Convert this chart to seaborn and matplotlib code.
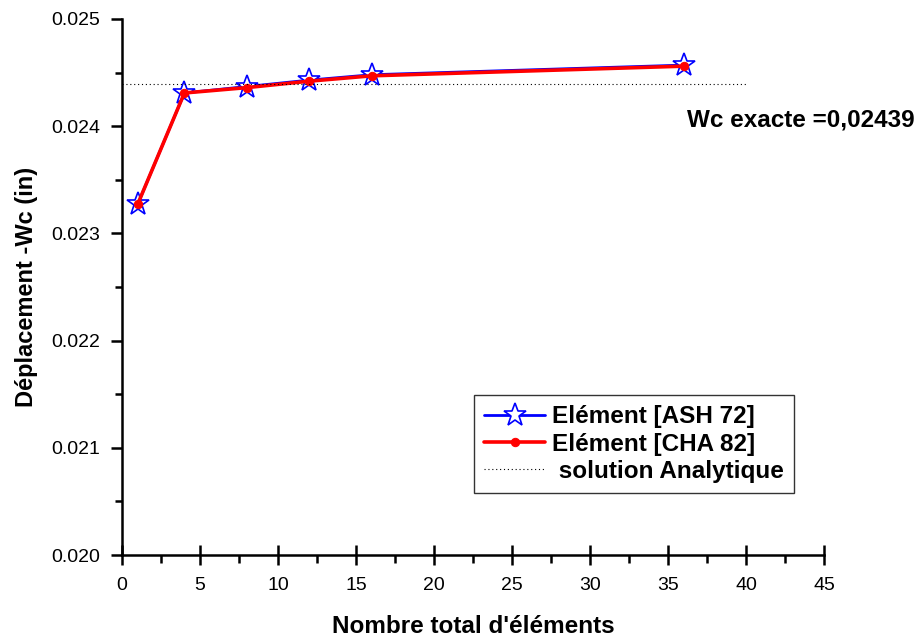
import matplotlib
matplotlib.use("Agg")
import matplotlib.pyplot as plt
import seaborn as sns
import pandas as pd

n_elements = [1, 4, 8, 12, 16, 36]
w_ash72 = [0.02327, 0.02431, 0.02437, 0.02443, 0.02448, 0.02457]
w_cha82 = [0.02327, 0.02431, 0.02436, 0.02442, 0.02447, 0.02456]
w_exact = 0.02439
exact_x = [0, 40]
x_ticks = [0, 5, 10, 15, 20, 25, 30, 35, 40, 45]
y_ticks = [0.020, 0.021, 0.022, 0.023, 0.024, 0.025]

sns.set_theme(style="ticks")
plt.rcParams['font.family'] = ['Liberation Sans', 'DejaVu Sans']
plt.rcParams['text.color'] = 'black'
plt.rcParams['axes.labelcolor'] = 'black'
plt.rcParams['xtick.color'] = 'black'
plt.rcParams['ytick.color'] = 'black'

fig = plt.figure(figsize=(9.21, 6.39), dpi=100)
ax = fig.add_axes([122/921, 84/639, (824-122)/921, (555-19)/639])

df_ash = pd.DataFrame({"x": n_elements, "y": w_ash72})
df_cha = pd.DataFrame({"x": n_elements, "y": w_cha82})
df_ex = pd.DataFrame({"x": exact_x, "y": [w_exact, w_exact]})

sns.lineplot(data=df_ash, x="x", y="y", ax=ax, color="blue", lw=2,
             marker="*", markersize=17, markerfacecolor="white",
             markeredgecolor="blue", markeredgewidth=1.2,
             label="Elément [ASH 72]")
sns.lineplot(data=df_cha, x="x", y="y", ax=ax, color="red", lw=2.6,
             marker="o", markersize=6, markerfacecolor="red",
             markeredgecolor="red", label="Elément [CHA 82]")
sns.lineplot(data=df_ex, x="x", y="y", ax=ax, color="black", lw=0.8,
             linestyle=(0, (1, 2.5)), label=" solution Analytique")

ax.set_xlim(0, 45)
ax.set_ylim(0.020, 0.025)
ax.set_xticks(x_ticks)
ax.set_xticks([2.5 + 5 * i for i in range(9)], minor=True)
ax.set_yticks(y_ticks)
ax.set_yticks([0.0205, 0.0215, 0.0225, 0.0235, 0.0245], minor=True)
ax.set_yticklabels([f"{v:.3f}" for v in y_ticks])
ax.tick_params(axis="x", which="major", direction="inout", length=14, width=1.8,
               labelsize=14, pad=9)
ax.tick_params(axis="x", which="minor", direction="out", length=6, width=1.8)
ax.tick_params(axis="y", which="major", direction="out", length=8, width=1.8,
               labelsize=14, pad=8)
ax.tick_params(axis="y", which="minor", direction="out", length=5, width=1.8)
for s in ["top", "right"]:
    ax.spines[s].set_visible(False)
for s in ["left", "bottom"]:
    ax.spines[s].set_linewidth(1.8)
    ax.spines[s].set_color("black")

ax.set_xlabel("Nombre total d'éléments", fontsize=17.5, fontweight="bold", labelpad=15)
ax.set_ylabel("Déplacement -Wc (in)", fontsize=17, fontweight="bold", labelpad=9)

ax.text(50.8, 0.024058, "Wc exacte =0,02439", fontsize=17.5, fontweight="bold",
        ha="right", va="center", clip_on=False)

leg = ax.legend(loc="upper left", bbox_to_anchor=((474-122)/702, (555-395)/536),
                frameon=True, fancybox=False, edgecolor="black",
                prop={"weight": "bold", "size": 17.5}, handlelength=2.5,
                borderpad=0.42, labelspacing=0.18, handletextpad=0.3,
                borderaxespad=0)
leg.get_frame().set_linewidth(1.0)

fig.savefig("out.png", dpi=100)
